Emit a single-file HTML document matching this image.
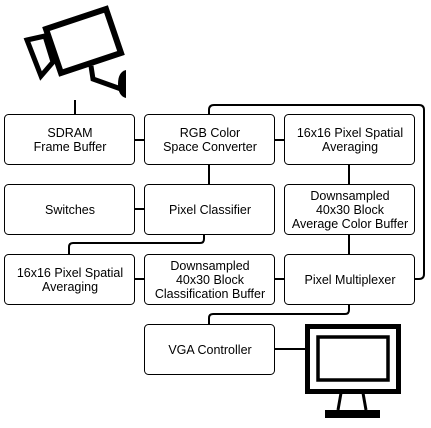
<!DOCTYPE html>
<html><head><style>body{margin:0;background:#fff}</style></head><body>
<svg width="431" height="423" viewBox="0 0 431 423" xmlns="http://www.w3.org/2000/svg" font-family="Liberation Sans, sans-serif" font-size="12.5">
<g fill="none" stroke="#000" stroke-width="2">
<path d="M75 100V114"/>
<path d="M134 140H144M274 140H284"/>
<path d="M209 114V110Q209 105 214 105H419Q424 105 424 110V274Q424 279 419 279H414"/>
<path d="M209 164V184M349 164V184M349 234V254"/>
<path d="M134 209H144"/>
<path d="M204 234V239Q204 243 200 243H73Q69 243 69 247V254"/>
<path d="M134 279H144M274 279H284"/>
<path d="M349 304V310Q349 314 345 314H213Q209 314 209 318V324"/>
<path d="M274 349H305"/>
</g>
<g fill="#fff" stroke="#000" stroke-width="1">
<rect x="4.5" y="114.5" width="130" height="50" rx="4"/>
<rect x="144.5" y="114.5" width="130" height="50" rx="4"/>
<rect x="284.5" y="114.5" width="130" height="50" rx="4"/>
<rect x="4.5" y="184.5" width="130" height="50" rx="4"/>
<rect x="144.5" y="184.5" width="130" height="50" rx="4"/>
<rect x="284.5" y="184.5" width="130" height="50" rx="4"/>
<rect x="4.5" y="254.5" width="130" height="50" rx="4"/>
<rect x="144.5" y="254.5" width="130" height="50" rx="4"/>
<rect x="284.5" y="254.5" width="130" height="50" rx="4"/>
<rect x="144.5" y="324.5" width="130" height="50" rx="4"/>
</g>
<g text-anchor="middle" fill="#000">
<text x="70" y="137">SDRAM</text><text x="70" y="151">Frame Buffer</text>
<text x="210" y="137">RGB Color</text><text x="210" y="151">Space Converter</text>
<text x="350" y="137">16x16 Pixel Spatial</text><text x="350" y="151">Averaging</text>
<text x="70" y="214">Switches</text>
<text x="210" y="214">Pixel Classifier</text>
<text x="350" y="200">Downsampled</text><text x="350" y="214">40x30 Block</text><text x="350" y="228">Average Color Buffer</text>
<text x="70" y="277">16x16 Pixel Spatial</text><text x="70" y="291">Averaging</text>
<text x="210" y="270">Downsampled</text><text x="210" y="284">40x30 Block</text><text x="210" y="298">Classification Buffer</text>
<text x="350" y="284">Pixel Multiplexer</text>
<text x="210" y="354">VGA Controller</text>
</g>
<g fill="none" stroke="#000">
<polygon points="46,29 106,9 121,53 61,73" stroke-width="6"/>
<polygon points="27,40 45,36 53,62 41,76" stroke-width="5"/>
<path d="M91 66L93 79L121 89" stroke-width="5"/>
<rect x="307.5" y="326.5" width="91" height="65" stroke-width="5"/>
<rect x="318" y="337" width="70" height="43" stroke-width="3.5"/>
<path d="M341 393L338 410M363 393L366 410" stroke-width="3"/>
</g>
<path d="M126 70Q118 72 118 84Q118 96 126 98Z" fill="#000"/>
<rect x="325" y="410" width="55" height="8" fill="#000"/>
</svg>
</body></html>
